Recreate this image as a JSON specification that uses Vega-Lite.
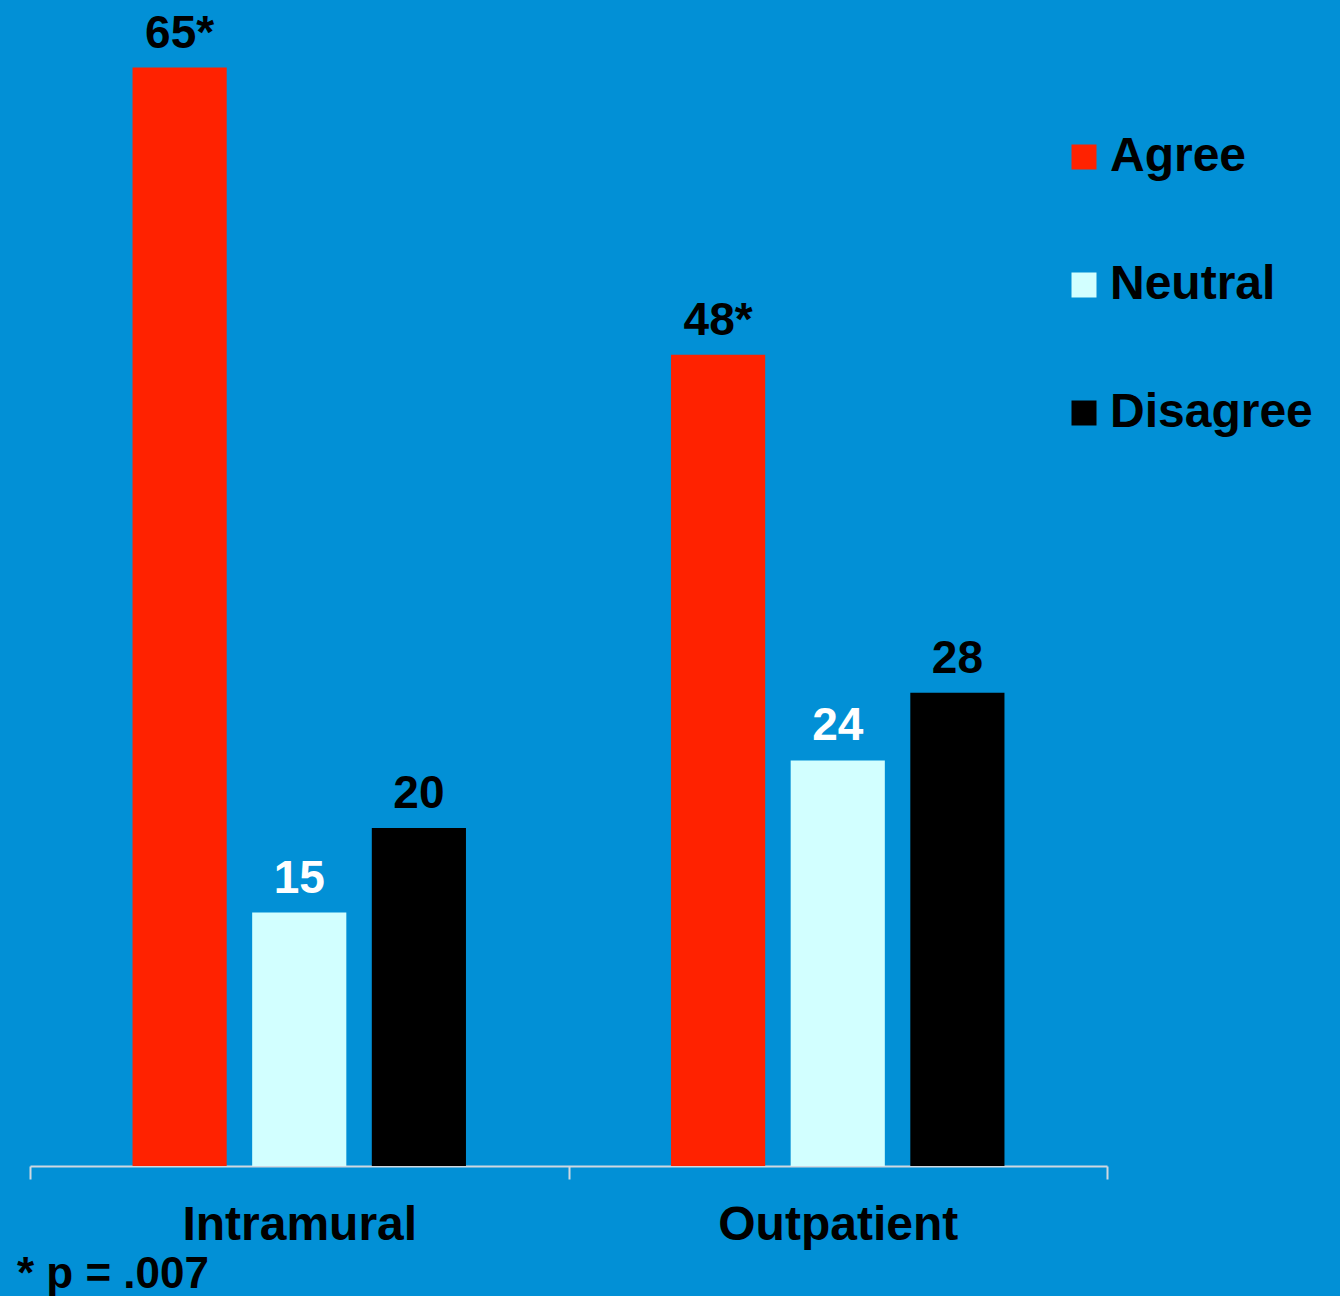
{
  "$schema": "https://vega.github.io/schema/vega-lite/v6.json",
  "width": 1077,
  "height": 1166,
  "autosize": {"type": "none"},
  "padding": {"left": 30, "top": 0, "right": 233, "bottom": 130},
  "background": "#0290D6",
  "config": {
    "view": {"stroke": null},
    "font": "Liberation Sans"
  },
  "title": {
    "text": "* p = .007",
    "orient": "bottom",
    "anchor": "start",
    "frame": "bounds",
    "fontSize": 44,
    "fontWeight": "bold",
    "color": "black",
    "font": "Liberation Sans",
    "offset": 4,
    "dx": -12
  },
  "data": {
    "values": [
      {"setting": "Intramural", "response": "Agree", "percent": 65, "label": "65*"},
      {"setting": "Intramural", "response": "Neutral", "percent": 15, "label": "15"},
      {"setting": "Intramural", "response": "Disagree", "percent": 20, "label": "20"},
      {"setting": "Outpatient", "response": "Agree", "percent": 48, "label": "48*"},
      {"setting": "Outpatient", "response": "Neutral", "percent": 24, "label": "24"},
      {"setting": "Outpatient", "response": "Disagree", "percent": 28, "label": "28"}
    ]
  },
  "encoding": {
    "x": {
      "field": "setting",
      "type": "nominal",
      "sort": ["Intramural", "Outpatient"],
      "scale": {"paddingInner": 0, "paddingOuter": 0},
      "axis": {
        "title": null,
        "labelAngle": 0,
        "labelFontSize": 48,
        "labelFontWeight": "bold",
        "labelColor": "black",
        "labelFont": "Liberation Sans",
        "labelLimit": 0,
        "labelPadding": 22,
        "tickBand": "extent",
        "tickSize": 13,
        "tickColor": "#D0D8E0",
        "tickWidth": 2,
        "domainColor": "#D0D8E0",
        "domainWidth": 2,
        "grid": false
      }
    },
    "xOffset": {
      "field": "response",
      "type": "nominal",
      "sort": ["Agree", "Neutral", "Disagree"],
      "scale": {"paddingInner": 0.213, "paddingOuter": 0.857}
    },
    "y": {
      "field": "percent",
      "type": "quantitative",
      "scale": {"domain": [0, 69], "nice": false, "zero": true},
      "axis": null
    }
  },
  "layer": [
    {
      "mark": {"type": "bar"},
      "encoding": {
        "color": {
          "field": "response",
          "type": "nominal",
          "sort": ["Agree", "Neutral", "Disagree"],
          "scale": {"domain": ["Agree", "Neutral", "Disagree"], "range": ["#FF2200", "#D2FFFF", "#000000"]},
          "legend": {
            "title": null,
            "orient": "none",
            "legendX": 1030,
            "legendY": 133,
            "symbolType": "square",
            "symbolSize": 625,
            "symbolStrokeWidth": 0,
            "labelFontSize": 48,
            "labelFontWeight": "bold",
            "labelColor": "black",
            "labelFont": "Liberation Sans",
            "labelLimit": 0,
            "labelOffset": 2,
            "rowPadding": 80
          }
        }
      }
    },
    {
      "mark": {"type": "text", "baseline": "alphabetic", "dy": -20, "fontSize": 46, "fontWeight": "bold", "font": "Liberation Sans"},
      "encoding": {
        "text": {"field": "label"},
        "color": {
          "condition": {"test": "datum.response === 'Neutral'", "value": "white"},
          "value": "black"
        }
      }
    }
  ]
}
